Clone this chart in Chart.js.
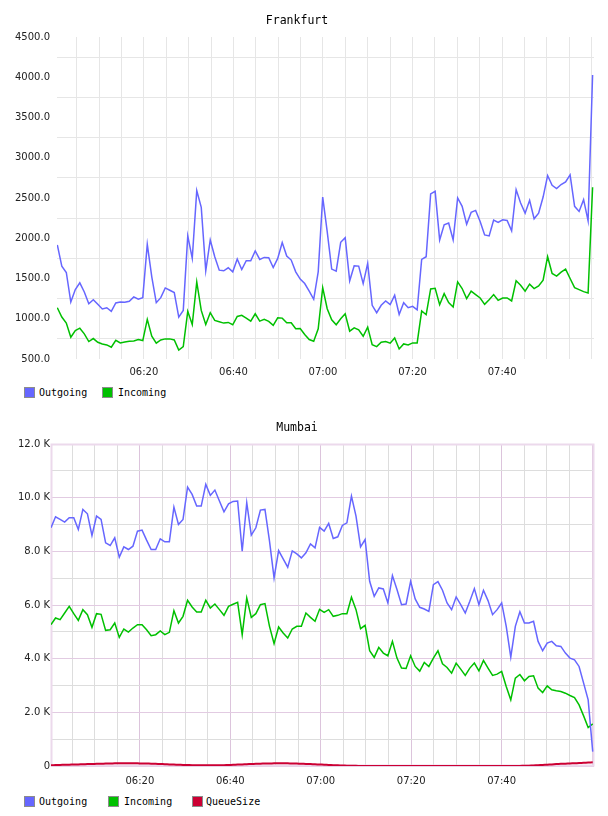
<!DOCTYPE html>
<html><head><meta charset="utf-8">
<script src="https://cdn.jsdelivr.net/npm/chart.js@4.4.1/dist/chart.umd.min.js"></script>
<style>
html,body{margin:0;padding:0;background:#fff;width:608px;height:816px;overflow:hidden;}
#wrap{position:relative;width:608px;height:816px;}
canvas{position:absolute;left:0;}
.lgt{position:absolute;font:10px "DejaVu Sans Mono",monospace;color:#000;line-height:11px;white-space:nowrap;}
.lgb{position:absolute;width:9px;height:9px;border:1px solid #8c8c8c;}
</style></head>
<body><div id="wrap">
<canvas id="c1" width="608" height="380" style="top:0"></canvas>
<canvas id="c2" width="608" height="392" style="top:400px"></canvas>
<div id="leg"></div>
</div>
<script>
// ---------- data ----------
const fraStartMin = 0.67, fraStepMin = 1.0045;   // sample times, minutes after 06:00
const mumStartMin = 0.35, mumStepMin = 1.0067;

const fraOutgoing = [1917,1654,1575,1208,1362,1446,1333,1187,1237,1179,
 1121,1137,1092,1196,1208,1204,1217,1271,1242,1262,
 1925,1521,1200,1262,1383,1354,1325,1021,1104,2029,
 1750,2592,2383,1596,1979,1771,1604,1596,1633,1583,
 1742,1612,1721,1721,1842,1737,1762,1758,1637,1750,
 1946,1779,1729,1583,1492,1437,1342,1242,1583,2512,
 2083,1617,1592,1950,2008,1471,1658,1654,1437,1687,
 1167,1075,1167,1221,1175,1292,1054,1200,1137,1154,
 1112,1738,1771,2550,2583,1979,2167,2188,1979,2500,
 2396,2175,2321,2346,2208,2042,2029,2225,2196,2229,
 2221,2092,2604,2437,2312,2471,2242,2312,2512,2779,
 2658,2617,2667,2700,2787,2396,2333,2479,2217,4029];
const fraIncoming = [1137,1021,946,771,854,883,812,717,754,708,
 687,675,646,733,700,712,721,725,742,729,
 992,783,696,737,750,750,737,612,654,1092,
 929,1458,1104,929,1075,979,962,946,954,925,
 1029,1042,1008,971,1062,971,992,967,917,1012,
 1008,950,950,875,879,804,742,721,875,1387,
 1125,987,925,1000,1062,846,887,862,783,896,
 679,654,708,717,696,762,625,687,675,700,
 700,1096,1050,1371,1379,1175,1312,1200,1146,1458,
 1375,1250,1342,1300,1258,1179,1237,1300,1229,1258,
 1258,1221,1471,1417,1342,1429,1375,1408,1479,1771,
 1562,1529,1579,1617,1500,1387,1362,1337,1321,2633];

const mumOutgoing = [8877,9288,9188,9089,9250,9250,8815,9562,9400,8590,
 9313,9188,8317,8217,8503,7781,8167,8068,8192,8752,
 8790,8416,8068,8068,8466,8354,8354,9649,9001,9188,
 10396,10122,9686,9686,10495,10085,10284,9873,9475,9773,
 9860,9873,8005,9811,8603,8877,9537,9562,8379,7009,
 8030,7719,7408,8018,7906,7756,7943,8279,8130,8890,
 8752,9039,8478,8541,8964,9064,10060,9313,8167,8441,
 6885,6325,6636,6599,6076,7097,6574,6013,6038,6885,
 6225,5914,5852,5764,6760,6872,6549,6076,5827,6300,
 6013,5702,6138,6611,6013,6549,6163,5640,5827,6076,
 5204,4059,5204,5752,5329,5329,5391,4644,4295,4582,
 4644,4482,4457,4208,4021,3959,3710,3088,2465,535];
const mumIncoming = [5266,5515,5453,5702,5951,5677,5428,5827,5640,5167,
 5677,5652,5055,5080,5329,4793,5105,4992,5142,5266,
 5266,5080,4856,4893,5030,4893,4980,5789,5329,5578,
 6175,5926,5739,5739,6175,5889,6038,5827,5615,5951,
 6026,6101,4893,6262,5540,5677,6013,6051,5204,4557,
 5179,4955,4768,5105,5204,5204,5702,5540,5391,5840,
 5727,5827,5578,5615,5677,5677,6287,5827,5117,5241,
 4295,4046,4420,4208,4108,4644,4021,3648,3635,4108,
 3710,3536,3860,3710,4021,4295,3810,3673,3461,3835,
 3610,3374,3648,3835,3548,3934,3648,3374,3424,3523,
 2963,2465,3274,3411,3175,3337,3362,2901,2739,2988,
 2839,2801,2776,2714,2627,2552,2278,1868,1432,1569];
const mumQueueSize = [30,35,40,45,50,55,60,65,70,75,
 80,85,90,95,98,100,100,100,100,98,
 95,92,88,82,75,68,60,52,45,40,
 35,30,28,25,25,25,26,28,32,38,
 45,52,60,68,75,82,88,92,96,98,
 100,100,98,95,90,85,78,70,62,55,
 48,40,32,25,18,12,8,5,3,2,
 1,1,1,1,1,1,1,1,1,1,
 1,1,1,1,1,1,1,1,1,1,
 1,1,1,1,1,1,1,1,1,1,
 1,1,2,4,8,14,22,30,40,50,
 60,70,80,88,95,102,110,120,130,140];

const xTickMinutes = [5,10,15,20,25,30,35,40,45,50,55,60,65,70,75,80,85,90,95,100,105,110,115,120];
const xLabelMinutes = [20,40,60,80,100];
const xLabelTexts = ['06:20','06:40','07:00','07:20','07:40'];
const fraYTicks = [500,750,1000,1250,1500,1750,2000,2250,2500,2750,3000,3250,3500,3750,4000,4250,4500];
const mumYTicks = [0,1000,2000,3000,4000,5000,6000,7000,8000,9000,10000,11000,12000];

const COL_OUT = '#6666ff', COL_IN = '#00c000', COL_Q = '#cc0033';

// ---------- helpers ----------
const toPts = (arr, start, step) => arr.map((v, i) => ({x: start + i * step, y: v}));
const xLabel = v => { const k = xLabelMinutes.indexOf(v); return k >= 0 ? xLabelTexts[k] : ''; };
const tickFont = {family: 'DejaVu Sans', size: 10};
const titleFont = {family: 'DejaVu Sans Mono', size: 11.5, weight: 'normal'};

const frame = {
  id: 'frame',
  beforeDatasetsDraw(chart, args, opts) {
    if (!opts.color) return;
    const a = chart.chartArea, c = chart.ctx;
    c.save(); c.strokeStyle = opts.color; c.lineWidth = opts.width || 1.5;
    c.strokeRect(a.left + 0.5, a.top + 0.5, a.right - a.left - 1, a.bottom - a.top - 1);
    c.restore();
  }
};

function lineDs(label, arr, start, step, color, width, tension) {
  return {label, data: toPts(arr, start, step), borderColor: color, backgroundColor: color,
    borderWidth: width, pointRadius: 0, tension: tension || 0, fill: false};
}

// ---------- Frankfurt ----------
new Chart(document.getElementById('c1'), {
  type: 'line',
  data: {datasets: [
    lineDs('Outgoing', fraOutgoing, fraStartMin, fraStepMin, COL_OUT, 1.5),
    lineDs('Incoming', fraIncoming, fraStartMin, fraStepMin, COL_IN, 1.5)
  ]},
  options: {
    responsive: false, animation: false, devicePixelRatio: 1,
    layout: {padding: {left: 0, right: 14, top: 0, bottom: 0}},
    plugins: {
      legend: {display: false}, tooltip: {enabled: false},
      title: {display: true, text: 'Frankfurt', font: titleFont, color: '#000', padding: {top: 14, bottom: 9.2}}
    },
    scales: {
      x: {type: 'linear', min: 0.6, max: 120.52,
        afterBuildTicks: s => { s.ticks = xTickMinutes.map(v => ({value: v})); },
        afterFit: s => { s.height = 21; },
        ticks: {autoSkip: false, maxRotation: 0, padding: 7, font: tickFont, color: '#222', callback: v => xLabel(v)},
        grid: {color: '#e6e6e6', drawTicks: false}, border: {display: false}},
      y: {min: 500, max: 4500,
        afterBuildTicks: s => { s.ticks = fraYTicks.map(v => ({value: v})); },
        afterFit: s => { s.width = 57; },
        ticks: {padding: 7, font: tickFont, color: '#222', callback: v => (v % 500 === 0 ? v.toFixed(1) : '')},
        grid: {color: ctx => (ctx.tick && ctx.tick.value % 500 === 0) ? 'rgba(0,0,0,0)' : '#e6e6e6', drawTicks: false},
        border: {display: false}}
    }
  }
});

// ---------- Mumbai ----------
new Chart(document.getElementById('c2'), {
  type: 'line',
  data: {datasets: [
    lineDs('Outgoing', mumOutgoing, mumStartMin, mumStepMin, COL_OUT, 1.5),
    lineDs('Incoming', mumIncoming, mumStartMin, mumStepMin, COL_IN, 1.5),
    lineDs('QueueSize', mumQueueSize, mumStartMin, mumStepMin, COL_Q, 2, 0.4)
  ]},
  plugins: [frame],
  options: {
    responsive: false, animation: false, devicePixelRatio: 1,
    layout: {padding: {left: 0, right: 14, top: 0, bottom: 0}},
    plugins: {
      legend: {display: false}, tooltip: {enabled: false},
      frame: {color: '#ecd9ec', width: 2},
      title: {display: true, text: 'Mumbai', font: titleFont, color: '#000', padding: {top: 21.4, bottom: 8.8}}
    },
    scales: {
      x: {type: 'linear', min: 0.35, max: 120.43,
        afterBuildTicks: s => { s.ticks = xTickMinutes.map(v => ({value: v})); },
        afterFit: s => { s.height = 26; },
        ticks: {autoSkip: false, maxRotation: 0, padding: 9, font: tickFont, color: '#222', callback: v => xLabel(v)},
        grid: {color: ctx => (ctx.tick && ctx.tick.value % 20 === 0) ? '#dcc4dc' : '#dddddd', drawTicks: false},
        border: {display: false}},
      y: {min: 0, max: 12000,
        afterBuildTicks: s => { s.ticks = mumYTicks.map(v => ({value: v})); },
        afterFit: s => { s.width = 51; },
        ticks: {padding: 1, font: tickFont, color: '#222',
          callback: v => (v === 0 ? '0' : (v % 2000 === 0 ? (v / 1000).toFixed(1) + ' K' : ''))},
        grid: {color: ctx => (ctx.tick && ctx.tick.value % 2000 === 0) ? '#e2cbe2' : '#dddddd', drawTicks: false},
        border: {display: false}}
    }
  }
});

// ---------- legends ----------
const legendItems = [
  {top: 387, items: [{label: 'Outgoing', color: COL_OUT, bx: 24, tx: 39}, {label: 'Incoming', color: COL_IN, bx: 102, tx: 118}]},
  {top: 796, items: [{label: 'Outgoing', color: COL_OUT, bx: 24, tx: 39}, {label: 'Incoming', color: COL_IN, bx: 108, tx: 124},
                     {label: 'QueueSize', color: COL_Q, bx: 192, tx: 206}]}
];
const leg = document.getElementById('leg');
legendItems.forEach(g => g.items.forEach(it => {
  const b = document.createElement('div'); b.className = 'lgb';
  b.style.left = it.bx + 'px'; b.style.top = g.top + 'px'; b.style.background = it.color; leg.appendChild(b);
  const t = document.createElement('div'); t.className = 'lgt';
  t.style.left = it.tx + 'px'; t.style.top = g.top + 'px'; t.textContent = it.label; leg.appendChild(t);
}));
</script>
</body></html>
